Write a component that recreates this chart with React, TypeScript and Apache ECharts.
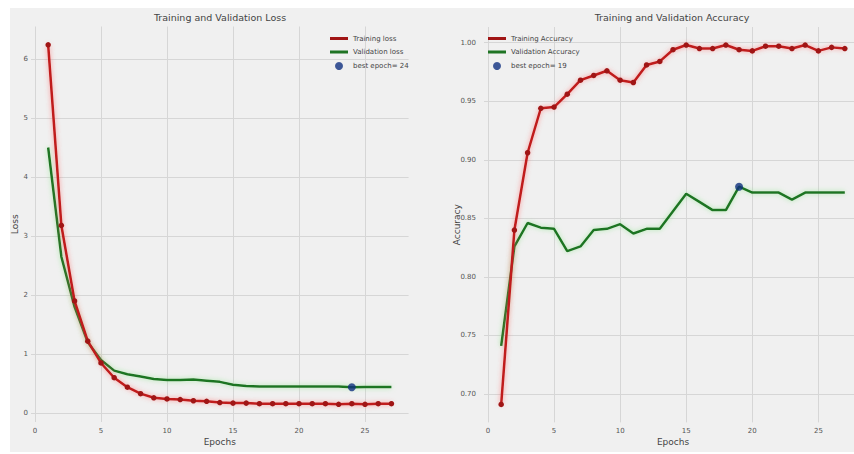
import React, { useEffect, useRef } from "react";
import * as echarts from "echarts";

const epochs = [1, 2, 3, 4, 5, 6, 7, 8, 9, 10, 11, 12, 13, 14, 15, 16, 17, 18, 19, 20, 21, 22, 23, 24, 25, 26, 27];
const trainLoss = [6.24, 3.18, 1.9, 1.22, 0.85, 0.6, 0.44, 0.33, 0.26, 0.24, 0.23, 0.21, 0.2, 0.18, 0.17, 0.17, 0.16, 0.16, 0.16, 0.16, 0.16, 0.16, 0.15, 0.16, 0.15, 0.16, 0.16];
const valLoss = [4.5, 2.65, 1.8, 1.2, 0.9, 0.72, 0.66, 0.62, 0.58, 0.56, 0.56, 0.57, 0.55, 0.53, 0.48, 0.46, 0.45, 0.45, 0.45, 0.45, 0.45, 0.45, 0.45, 0.44, 0.445, 0.445, 0.445];
const trainAcc = [0.691, 0.84, 0.906, 0.944, 0.945, 0.956, 0.968, 0.972, 0.976, 0.968, 0.966, 0.981, 0.984, 0.994, 0.998, 0.995, 0.995, 0.998, 0.994, 0.993, 0.997, 0.997, 0.995, 0.998, 0.993, 0.996, 0.995];
const valAcc = [0.741, 0.826, 0.846, 0.842, 0.841, 0.822, 0.826, 0.84, 0.841, 0.845, 0.837, 0.841, 0.841, 0.856, 0.871, 0.864, 0.857, 0.857, 0.877, 0.872, 0.872, 0.872, 0.866, 0.872, 0.872, 0.872, 0.872];
const bestLossEpoch = 24;
const bestAccEpoch = 19;
const titles = ["Training and Validation Loss", "Training and Validation Accuracy"];
// tick ranges (first tick, last tick, step)
const epochTicks = [0, 25, 5];
const lossTicks = [0, 6, 1];
const accTicks = [0.7, 1.0, 0.05];

const RED = "#c01c1c";
const RED_MARK = "#a01515";
const GREEN = "#1f7424";
const BLUE = "#0f2f80";
const FONT = "DejaVu Sans";
const LINE_ICON = "path://M0,0 L18,0 L18,3 L0,3 Z";
const GRID_COLOR = "#d6d6d6";

const pairs = (ys: number[]) => epochs.map((e, i) => [e, ys[i]]);

export default function App() {
  const ref = useRef<HTMLDivElement>(null);
  useEffect(() => {
    document.body.style.margin = "0";
    const chart = echarts.init(ref.current!, null, { renderer: "svg" });
    const lossLabel = "best epoch= " + bestLossEpoch;
    const accLabel = "best epoch= " + bestAccEpoch;

    // data-plot extents (matplotlib-like 5% margins)
    const xMin = -0.3, xMax = 28.3;
    const lMin = -0.15, lMax = 6.55;
    const aMin = 0.6757, aMax = 1.0134;
    const gBase = { outerBoundsMode: "none", containLabel: false };
    const L = { left: 21, top: 18.5, width: 377.6, height: 395.5 };
    const R = { left: 474, top: 19, width: 378, height: 395.4 };

    const vGrid = (g: any, t: number[]) => {
      const px = g.width / (xMax - xMin);
      return { ...gBase, left: g.left + (t[0] - xMin) * px, width: (t[1] - t[0]) * px, top: g.top, height: g.height };
    };
    const hGrid = (g: any, t: number[], mn: number, mx: number) => {
      const py = g.height / (mx - mn);
      return { ...gBase, left: g.left, width: g.width, top: g.top + (mx - t[1]) * py, height: (t[1] - t[0]) * py };
    };

    const hidden = { show: false };
    const tickLabel = { fontSize: 7, color: "#555", fontFamily: FONT };
    const split = { show: true, lineStyle: { color: GRID_COLOR, width: 1 } };
    const nameStyle = { fontSize: 9, color: "#444", fontFamily: FONT };

    const dataX = (gi: number) => ({
      type: "value", gridIndex: gi, min: xMin, max: xMax,
      name: "Epochs", nameLocation: "middle", nameGap: 15, nameTextStyle: nameStyle,
      axisLine: hidden, axisTick: hidden, axisLabel: hidden, splitLine: hidden,
    });
    const dataY = (gi: number, mn: number, mx: number, name: string, gap: number) => ({
      type: "value", gridIndex: gi, min: mn, max: mx,
      name, nameLocation: "middle", nameGap: gap, nameTextStyle: nameStyle,
      axisLine: hidden, axisTick: hidden, axisLabel: hidden, splitLine: hidden,
    });
    const vLinesX = (gi: number) => ({
      type: "value", gridIndex: gi, min: epochTicks[0], max: epochTicks[1], interval: epochTicks[2],
      axisLine: hidden, axisTick: hidden,
      axisLabel: { ...tickLabel, margin: 5 },
      splitLine: split,
    });
    const hiddenAxis = (gi: number) => ({ type: "value", gridIndex: gi, show: false, min: 0, max: 1 });
    const hLinesY = (gi: number, t: number[], margin: number, digits: number) => ({
      type: "value", gridIndex: gi, min: t[0], max: t[1], interval: t[2],
      axisLine: hidden, axisTick: hidden,
      axisLabel: { ...tickLabel, margin, formatter: (v: number) => v.toFixed(digits) },
      splitLine: split,
    });

    const legendCommon = {
      orient: "vertical",
      top: 27,
      itemWidth: 18,
      itemHeight: 8,
      itemGap: 6.5,
      padding: 0,
      textStyle: { fontSize: 7, color: "#444", fontFamily: FONT },
    };
    const titleStyle = { fontSize: 9.5, fontWeight: "normal", color: "#444", fontFamily: FONT };
    const lineHalo = (c: string) => ({ shadowBlur: 5, shadowColor: c });

    const option = {
      animation: false,
      backgroundColor: "#f0f0f0",
      textStyle: { fontFamily: FONT },
      title: [
        { text: titles[0], left: 210, top: 4, textAlign: "center", padding: 0, textStyle: titleStyle },
        { text: titles[1], left: 662, top: 4, textAlign: "center", padding: 0, textStyle: titleStyle },
      ],
      legend: [
        {
          ...legendCommon,
          left: 320,
          data: [
            { name: "Training loss", icon: LINE_ICON },
            { name: "Validation loss", icon: LINE_ICON },
            { name: lossLabel, icon: "circle" },
          ],
        },
        {
          ...legendCommon,
          left: 478,
          data: [
            { name: "Training Accuracy", icon: LINE_ICON },
            { name: "Validation Accuracy", icon: LINE_ICON },
            { name: accLabel, icon: "circle" },
          ],
        },
      ],
      grid: [
        { ...gBase, ...L },
        { ...gBase, ...R },
        vGrid(L, epochTicks),
        hGrid(L, lossTicks, lMin, lMax),
        vGrid(R, epochTicks),
        hGrid(R, accTicks, aMin, aMax),
      ],
      xAxis: [
        dataX(0),
        dataX(1),
        vLinesX(2),
        hiddenAxis(3),
        vLinesX(4),
        hiddenAxis(5),
      ],
      yAxis: [
        dataY(0, lMin, lMax, "Loss", 11.5),
        dataY(1, aMin, aMax, "Accuracy", 22.5),
        hiddenAxis(2),
        hLinesY(3, lossTicks, 3, 0),
        hiddenAxis(4),
        hLinesY(5, accTicks, 8, 2),
      ],
      series: [
        {
          name: "Training loss",
          type: "line",
          xAxisIndex: 0,
          yAxisIndex: 0,
          data: pairs(trainLoss),
          symbol: "circle",
          symbolSize: 5.5,
          itemStyle: { color: RED_MARK },
          lineStyle: { color: RED, width: 2.5, ...lineHalo("rgba(255,90,90,0.65)") },
          z: 3,
        },
        {
          name: "Validation loss",
          type: "line",
          xAxisIndex: 0,
          yAxisIndex: 0,
          data: pairs(valLoss),
          showSymbol: false,
          symbol: "none",
          itemStyle: { color: GREEN },
          lineStyle: { color: GREEN, width: 2.5, ...lineHalo("rgba(130,230,130,0.65)") },
          z: 2,
        },
        {
          name: lossLabel,
          type: "scatter",
          xAxisIndex: 0,
          yAxisIndex: 0,
          data: [[bestLossEpoch, valLoss[bestLossEpoch - 1]]],
          symbolSize: 8,
          itemStyle: { color: BLUE },
          z: 5,
        },
        {
          name: "Training Accuracy",
          type: "line",
          xAxisIndex: 1,
          yAxisIndex: 1,
          data: pairs(trainAcc),
          symbol: "circle",
          symbolSize: 5.5,
          itemStyle: { color: RED_MARK },
          lineStyle: { color: RED, width: 2.5, ...lineHalo("rgba(255,90,90,0.65)") },
          z: 3,
        },
        {
          name: "Validation Accuracy",
          type: "line",
          xAxisIndex: 1,
          yAxisIndex: 1,
          data: pairs(valAcc),
          showSymbol: false,
          symbol: "none",
          itemStyle: { color: GREEN },
          lineStyle: { color: GREEN, width: 2.5, ...lineHalo("rgba(130,230,130,0.65)") },
          z: 2,
        },
        {
          name: accLabel,
          type: "scatter",
          xAxisIndex: 1,
          yAxisIndex: 1,
          data: [[bestAccEpoch, valAcc[bestAccEpoch - 1]]],
          symbolSize: 8,
          itemStyle: { color: BLUE },
          z: 5,
        },
      ],
    };
    chart.setOption(option as any);
    return () => chart.dispose();
  }, []);
  return (
    <div style={{ width: 854, height: 454, background: "#ffffff", position: "relative", overflow: "hidden" }}>
      <div ref={ref} style={{ position: "absolute", left: 10, top: 8, width: 860, height: 444 }} />
    </div>
  );
}
